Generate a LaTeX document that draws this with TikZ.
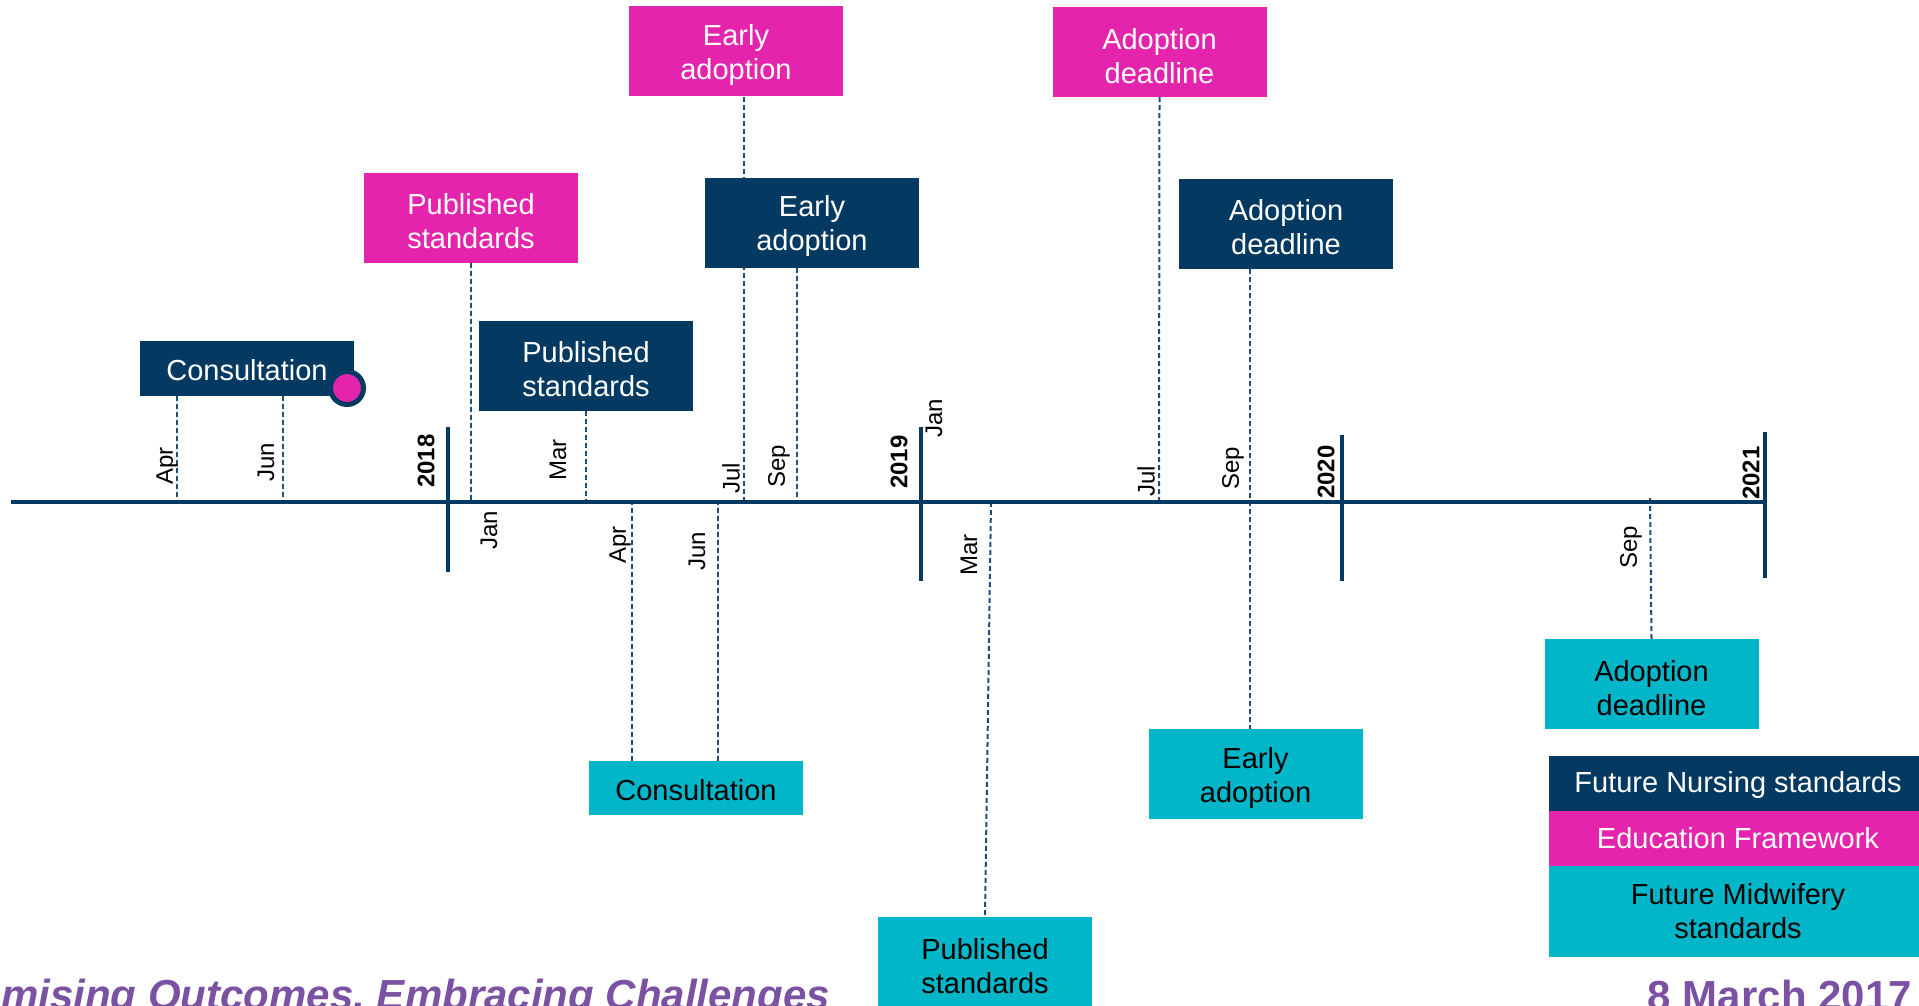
\documentclass[tikz,border=0pt]{standalone}
\usepackage{fontspec}
\setmainfont{Liberation Sans}
\usetikzlibrary{backgrounds}
\definecolor{cNavy}{HTML}{043A62}
\definecolor{cPink}{HTML}{E424AC}
\definecolor{cTeal}{HTML}{01B6C8}
\definecolor{cPurple}{HTML}{7B52A3}
\definecolor{cDash}{HTML}{1B4F7A}
\newcommand{\bxfont}{\fontsize{29}{34}\selectfont}
\newcommand{\mofont}{\fontsize{24}{28}\selectfont}
\newcommand{\yrfont}{\fontsize{24}{28}\selectfont\bfseries}
\newcommand{\ftfont}{\fontsize{42}{48}\selectfont\bfseries}
\newcommand{\tpa}{\rule{0pt}{25pt}}
\newcommand{\tpb}{\rule{0pt}{29pt}}
\tikzset{
  box/.style={rectangle, inner sep=0pt, minimum width=214pt, minimum height=90pt, align=center, font=\bxfont},
  navybox/.style={box, fill=cNavy, text=white},
  pinkbox/.style={box, fill=cPink, text=white},
  tealbox/.style={box, fill=cTeal, text=black},
  conn/.style={draw=cDash, line width=2pt, dash pattern=on 5pt off 3pt},
  month/.style={rotate=90, inner sep=0pt, font=\mofont, text=black},
  yearlbl/.style={rotate=90, inner sep=0pt, font=\yrfont, text=black},
  yeartick/.style={draw=cNavy, line width=4pt},
  axisline/.style={draw=cNavy, line width=4pt},
  footer/.style={inner sep=0pt, font=\ftfont, text=cPurple}
}
\begin{document}
\begin{tikzpicture}[x=1pt,y=-1pt]
\useasboundingbox (0,0) rectangle (1919,1006);
\clip (0,0) rectangle (1919,1006);

% axis points
\coordinate (axL) at (11,502);
\coordinate (axR) at (1765,502);
\coordinate (apr17) at (177,504);
\coordinate (jun17) at (283,504);
\coordinate (jan18) at (471,502);
\coordinate (mar18) at (586,502);
\coordinate (apr18) at (632,500);
\coordinate (jun18) at (718,500);
\coordinate (jul18) at (744,502);
\coordinate (sep18) at (797,502);
\coordinate (mar19) at (991,502);
\coordinate (jul19) at (1159,502);
\coordinate (sep19) at (1250,502);
\coordinate (sep20) at (1650,498);

% boxes: Future Nursing standards (navy)
\node[navybox, minimum height=55pt] (nC) at (247,368.5) {\tpa Consultation};
\node[navybox] (nP) at (586,365.5) {\tpb Published\\standards};
\node[navybox] (nE) at (812,222.5) {\tpb Early\\adoption};
\node[navybox] (nA) at (1286,223.5) {\tpb Adoption\\deadline};
% Education Framework (pink)
\node[pinkbox] (pP) at (471,217.5) {\tpb Published\\standards};
\node[pinkbox] (pE) at (736,51.5) {\tpb Early\\adoption};
\node[pinkbox] (pA) at (1159.5,52) {\tpb Adoption\\deadline};
% Future Midwifery standards (teal)
\node[tealbox, minimum height=54pt] (tC) at (696,788) {\tpa Consultation};
\node[tealbox] (tP) at (985,962) {\tpb Published\\standards};
\node[tealbox] (tE) at (1255.5,774) {\tpb Early\\adoption};
\node[tealbox] (tA) at (1651.5,684) {\tpb Adoption\\deadline};

% marker dot
\node[circle, fill=cPink, draw=cNavy, line width=5pt, minimum size=33pt, inner sep=0pt] (dot) at (347,388) {};

% connectors (behind boxes)
\begin{scope}[on background layer]
\fill[white] (0,0) rectangle (1919,1006);
\draw[conn] (nC.south -| apr17) -- (apr17);
\draw[conn] (nC.south -| jun17) -- (jun17);
\draw[conn] (pP.south) -- (jan18);
\draw[conn] (nP.south) -- (mar18);
\draw[conn] (apr18) -- (tC.north -| apr18);
\draw[conn] (jun18) -- (tC.north -| jun18);
\draw[conn] (pE.south -| jul18) -- (jul18);
\draw[conn] (nE.south -| sep18) -- (sep18);
\draw[conn] (mar19) -- (tP.north);
\draw[conn] (pA.south) -- (jul19);
\draw[conn] (nA.south -| sep19) -- (tE.north -| sep19);
\draw[conn] (sep20) -- (tA.north);
\end{scope}

% axis and year ticks
\draw[axisline] (axL) -- (axR);
\coordinate (t18a) at (448,427); \coordinate (t18b) at (448,572);
\coordinate (t19a) at (921,427); \coordinate (t19b) at (921,581);
\coordinate (t20a) at (1342,435); \coordinate (t20b) at (1342,581);
\coordinate (t21a) at (1765,432); \coordinate (t21b) at (1765,578);
\draw[yeartick] (t18a) -- (t18b);
\draw[yeartick] (t19a) -- (t19b);
\draw[yeartick] (t20a) -- (t20b);
\draw[yeartick] (t21a) -- (t21b);

% year labels
\node[yearlbl] (y18) at (426,461) {2018};
\node[yearlbl] (y19) at (899,462) {2019};
\node[yearlbl] (y20) at (1326,472) {2020};
\node[yearlbl] (y21) at (1751,473) {2021};

% month labels above the axis
\node[month] (mApr17) at (167,466) {Apr};
\node[month] (mJun17) at (266,462) {Jun};
\node[month] (mMar18) at (558,460) {Mar};
\node[month] (mJul18) at (731,478) {Jul};
\node[month] (mSep18) at (779,466) {Sep};
\node[month] (mJan19) at (934,418) {Jan};
\node[month] (mJul19) at (1146,481) {Jul};
\node[month] (mSep19) at (1233,468) {Sep};
% month labels below the axis
\node[month] (mJan18) at (489,530) {Jan};
\node[month] (mApr18) at (620,545) {Apr};
\node[month] (mJun18) at (697,551) {Jun};
\node[month] (mMar19) at (969,555) {Mar};
\node[month] (mSep20) at (1631,547) {Sep};

% legend
\node[navybox, minimum width=378pt, minimum height=55pt] (lgN) at (1738,783.5) {\tpa Future Nursing standards};
\node[pinkbox, minimum width=378pt, minimum height=55pt] (lgP) at (1738,838.5) {Education Framework};
\node[tealbox, minimum width=378pt, minimum height=91pt] (lgT) at (1738,911.5) {Future Midwifery\\standards};

% footer
\node[footer, anchor=base east, font=\ftfont\itshape] (ftL) at (830,1009) {mising Outcomes, Embracing Challenges};
\node[footer, anchor=base east] (ftR) at (1912,1010) {8 March 2017};
\end{tikzpicture}
\end{document}
